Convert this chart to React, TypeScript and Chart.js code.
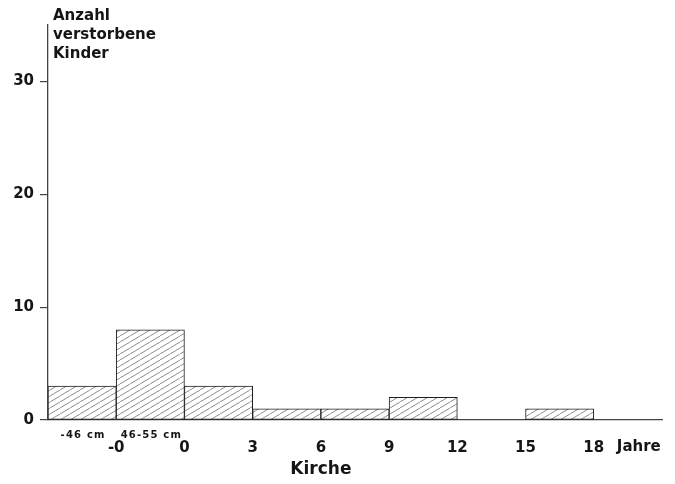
import React, { useEffect, useRef } from "react";
import { Chart, registerables } from "chart.js";

Chart.register(...registerables);

// ---- data ----
const binLabels = ["-46 cm", "46-55 cm", "0-3", "3-6", "6-9", "9-12", "12-15", "15-18"];
const counts = [3, 8, 3, 1, 1, 2, 0, 1];
const xTickLabels = ["", "-0", "0", "3", "6", "9", "12", "15", "18", ""];
const smallBinLabels = ["-46 cm", "46-55 cm"];
const yTitleLines = ["Anzahl", "verstorbene", "Kinder"];
const xTitle = "Kirche";
const xUnit = "Jahre";

const FONT = "'DejaVu Sans', 'Liberation Sans', Arial, sans-serif";
const INK = "#151515";

function makeHatch(): CanvasPattern | string {
  const w = 10;
  const h = 6;
  const c = document.createElement("canvas");
  c.width = w;
  c.height = h;
  const g = c.getContext("2d");
  if (!g) return "#ddd";
  g.fillStyle = "#ffffff";
  g.fillRect(0, 0, w, h);
  g.strokeStyle = "#808080";
  g.lineWidth = 0.9;
  for (const dx of [-w, 0, w]) {
    g.beginPath();
    g.moveTo(dx, h);
    g.lineTo(dx + w, 0);
    g.stroke();
  }
  const p = g.createPattern(c, "repeat");
  return p || "#ddd";
}

const textPlugin = {
  id: "texts",
  afterDraw(chart: any) {
    const ctx = chart.ctx as CanvasRenderingContext2D;
    const xs = chart.scales.x;
    const area = chart.chartArea;
    ctx.save();
    ctx.fillStyle = INK;
    // y title (top-left, beside the axis)
    ctx.font = `bold 15px ${FONT}`;
    ctx.textAlign = "left";
    ctx.textBaseline = "alphabetic";
    yTitleLines.forEach((t, i) => ctx.fillText(t, area.left + 5, 20 + i * 19));
    // small bin labels under the first two bins
    ctx.font = `bold 10px ${FONT}`;
    (ctx as any).letterSpacing = "1.2px";
    ctx.textAlign = "center";
    ctx.textBaseline = "middle";
    smallBinLabels.forEach((t, i) => {
      ctx.fillText(t, xs.getPixelForValue(i + 0.5) + 1, area.bottom + 15);
    });
    (ctx as any).letterSpacing = "0px";
    // unit
    ctx.font = `bold 15px ${FONT}`;
    ctx.fillText(xUnit, xs.getPixelForValue(8.66), area.bottom + 27);
    // x title
    ctx.font = `bold 17px ${FONT}`;
    ctx.fillText(xTitle, xs.getPixelForValue(4.0), area.bottom + 50);
    ctx.restore();
  },
};

export default function App() {
  const ref = useRef<HTMLCanvasElement | null>(null);
  useEffect(() => {
    if (!ref.current) return;
    const hatch = makeHatch();
    const chart = new Chart(ref.current, {
      type: "bar",
      data: {
        labels: binLabels,
        datasets: [
          {
            label: "Anzahl verstorbene Kinder",
            data: counts.map((v, i) => ({ x: i + 0.5, y: v === 0 ? null : v })) as any,
            backgroundColor: hatch as any,
            borderColor: "#1e1e1e",
            borderWidth: 1,
            borderSkipped: false,
            barPercentage: 1,
            categoryPercentage: 1,
          },
        ],
      },
      options: {
        animation: false,
        responsive: true,
        maintainAspectRatio: false,
        layout: { padding: { top: 25, right: 13, left: 0, bottom: 0 } },
        plugins: {
          legend: { display: false },
          tooltip: { enabled: false },
          title: { display: false },
        },
        scales: {
          x: {
            type: "linear",
            min: 0,
            max: 9,
            offset: false,
            grid: { display: false, drawTicks: false },
            border: { display: true, color: "#444", width: 1.3 },
            ticks: {
              stepSize: 1,
              autoSkip: false,
              maxRotation: 0,
              padding: 19,
              color: INK,
              font: { family: FONT, size: 15, weight: "bold" },
              callback: (v: any) => xTickLabels[Math.round(Number(v))] ?? "",
            },
            afterFit: (s: any) => {
              s.height = 64;
              s.paddingLeft = 0;
              s.paddingRight = 0;
            },
          },
          y: {
            type: "linear",
            min: 0,
            max: 35,
            grid: {
              display: true,
              drawOnChartArea: false,
              drawTicks: true,
              tickLength: 8,
              color: "#444",
              lineWidth: 1.2,
            },
            border: { display: true, color: "#444", width: 1.3 },
            ticks: {
              stepSize: 10,
              includeBounds: false,
              padding: 6,
              color: INK,
              font: { family: FONT, size: 15, weight: "bold" },
            },
            afterFit: (s: any) => {
              s.width = 48;
            },
          },
        },
      },
      plugins: [textPlugin],
    });
    return () => chart.destroy();
  }, []);
  return (
    <div style={{ position: "absolute", left: 0, top: 0, width: 675, height: 484, background: "#fff" }}>
      <canvas ref={ref} />
    </div>
  );
}
